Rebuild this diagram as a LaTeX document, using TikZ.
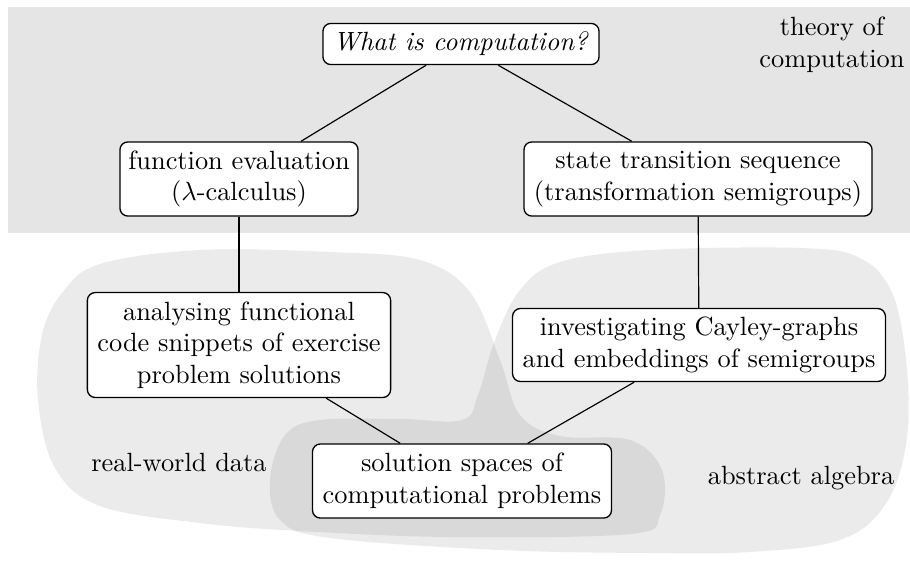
\documentclass[tikz,border=0pt]{standalone}
\begin{document}
\begin{tikzpicture}[x=0.3792pt,y=-0.3792pt,
  box/.style={draw, rounded corners=3pt, fill=white, align=center, inner sep=2pt, line width=0.5pt},
  link/.style={line width=0.45pt},
  blob/.style={fill=black, fill opacity=0.08},
  region/.style={align=center, inner sep=0pt}]
\useasboundingbox (0,0) rectangle (910,560);
\fill[black!10] (8,7) rectangle (910,233);
% real-world data blob
\fill[blob] plot[smooth cycle,tension=0.6] coordinates {
 (38,400) (42,335) (62,293) (100,264) (200,250) (330,252) (420,260) (470,292)
 (500,360) (520,415) (560,436) (630,440) (662,470) (660,515) (630,534) (450,537)
 (300,531) (200,523) (100,506) (55,468)};
% abstract algebra blob
\fill[blob] plot[smooth cycle,tension=0.6] coordinates {
 (560,262) (520,290) (495,340) (478,395) (462,420) (400,419) (320,420) (285,435)
 (270,480) (280,520) (330,538) (500,550) (650,553) (750,552) (840,540) (885,505)
 (906,445) (907,370) (893,295) (860,258) (800,248) (650,250)};

\node[box, minimum width=104.7pt, minimum height=15.6pt] (what) at (461,44) {\textit{What is computation?}};
\node[box, minimum width=90.3pt, minimum height=28.1pt] (func) at (239,179) {function evaluation\\($\lambda$-calculus)};
\node[box, minimum width=132pt, minimum height=28.1pt] (state) at (698,179) {state transition sequence\\(transformation semigroups)};
\node[box, minimum width=115pt, minimum height=39.8pt] (anal) at (239,345) {analysing functional\\code snippets of exercise\\problem solutions};
\node[box, minimum width=141.4pt, minimum height=27.7pt] (inv) at (699,345) {investigating Cayley-graphs\\and embeddings of semigroups};
\node[box, minimum width=113.4pt, minimum height=28.1pt] (sol) at (462,481) {solution spaces of\\computational problems};

\node[region, anchor=east] (toc) at (905,45) {theory of\\computation};
\node[region] (rwd) at (179,462) {real-world data};
\node[region] (aa) at (801,478) {abstract algebra};

\draw[link] (what) -- (func);
\draw[link] (what) -- (state);
\draw[link] (func) -- (anal);
\draw[link] (state) -- (inv);
\draw[link] (anal) -- (sol);
\draw[link] (inv) -- (sol);
\end{tikzpicture}
\end{document}
